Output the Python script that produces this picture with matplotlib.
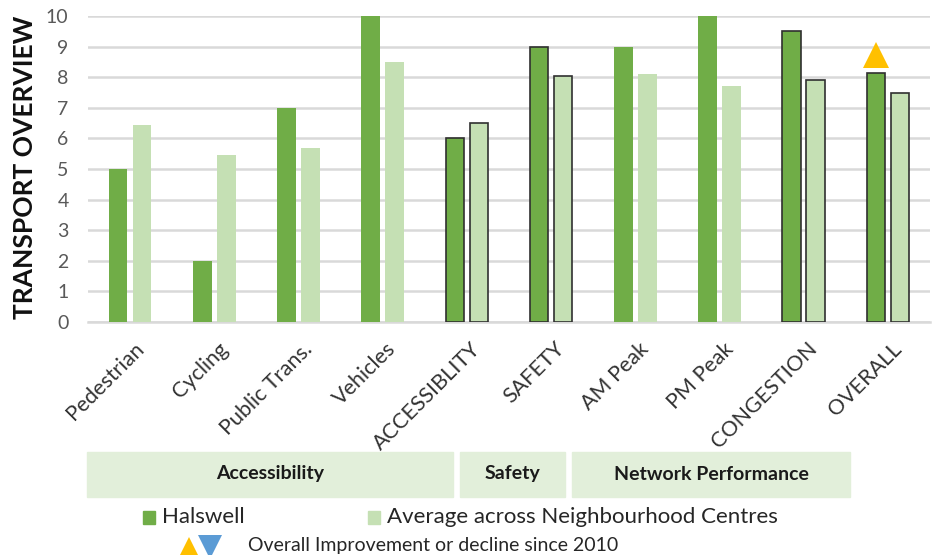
import matplotlib.pyplot as plt
import numpy as np
from matplotlib.patches import Rectangle

# data
categories = ['Pedestrian', 'Cycling', 'Public Trans.', 'Vehicles', 'ACCESSIBLITY',
              'SAFETY', 'AM Peak', 'PM Peak', 'CONGESTION', 'OVERALL']
halswell = [5, 2, 7, 10, 6, 9, 9, 10, 9.5, 8.15]
average = [6.45, 5.45, 5.7, 8.5, 6.5, 8.05, 8.1, 7.7, 7.9, 7.5]
outlined = [False, False, False, False, True, True, False, False, True, True]
improvement_idx = 9  # OVERALL gets the "improved" marker
groups = ['Accessibility', 'Safety', 'Network Performance']

DARK = '#70AD47'
LIGHT = '#C5E0B4'

plt.rcParams['font.family'] = ['Lato', 'DejaVu Sans']

fig = plt.figure(figsize=(9.37, 5.55), dpi=100)
ax = fig.add_axes([88 / 937, 1 - 322 / 555, 842 / 937, 306 / 555])

x = np.arange(len(categories))
off, w = 0.143, 0.22
for i in range(len(categories)):
    ec = '#303030' if outlined[i] else 'none'
    lw = 1.2 if outlined[i] else 0
    ax.bar(x[i] - off, halswell[i], w, color=DARK, edgecolor=ec, linewidth=lw, zorder=3)
    ax.bar(x[i] + off, average[i], w, color=LIGHT, edgecolor=ec, linewidth=lw, zorder=3)

# improvement marker above the OVERALL bar
ax.plot(x[improvement_idx] - off, halswell[improvement_idx] + 0.58, marker='^',
        markersize=19, color='#FFC000', markeredgewidth=0, zorder=4)

ax.set_xlim(-0.5, 9.5)
ax.set_ylim(0, 10)
ax.set_yticks(range(0, 11))
ax.yaxis.grid(True, color='#D9D9D9', linewidth=1.8, zorder=0)
ax.set_axisbelow(True)
for s in ['top', 'right', 'left']:
    ax.spines[s].set_visible(False)
ax.spines['bottom'].set_color('#D9D9D9')
ax.spines['bottom'].set_linewidth(1.8)
ax.tick_params(axis='both', length=0)
ax.tick_params(axis='y', labelsize=14, labelcolor='#595959', pad=14)

ax.set_xticks(x + 0.04)
ax.set_xticklabels(categories, rotation=45, ha='right', rotation_mode='anchor',
                   fontsize=15.5, color='#333333')
ax.tick_params(axis='x', pad=12)

fig.text(25 / 937, 1 - 167 / 555, 'TRANSPORT OVERVIEW', rotation=90, fontsize=19,
         fontweight='bold', ha='center', va='center', color='#111111')

# group boxes under the axis
boxes = [(87, 453), (460, 565), (572, 850)]
for (x0, x1), name in zip(boxes, groups):
    fig.patches.append(Rectangle((x0 / 937, 1 - 497 / 555), (x1 - x0) / 937, 45 / 555,
                                 transform=fig.transFigure, color='#E2EFDA', zorder=0))
    fig.text((x0 + x1) / 2 / 937, 1 - 474 / 555, name, fontsize=14, fontweight='bold',
             ha='center', va='center', color='#1A1A1A')

# legend
fig.patches.append(Rectangle((143 / 937, 1 - 524 / 555), 12 / 937, 13 / 555,
                             transform=fig.transFigure, color=DARK))
fig.text(162 / 937, 1 - 517 / 555, 'Halswell', fontsize=16, va='center', color='#262626')
fig.patches.append(Rectangle((368 / 937, 1 - 524 / 555), 12 / 937, 13 / 555,
                             transform=fig.transFigure, color=LIGHT))
fig.text(387 / 937, 1 - 517 / 555, 'Average across Neighbourhood Centres', fontsize=16,
         va='center', color='#262626')

fig.lines.append(plt.Line2D([189 / 937], [1 - 549 / 555], marker='^', markersize=17,
                            color='#FFC000', markeredgewidth=0, transform=fig.transFigure))
fig.lines.append(plt.Line2D([210 / 937], [1 - 547 / 555], marker='v', markersize=17,
                            color='#5B9BD5', markeredgewidth=0, transform=fig.transFigure))
fig.text(248 / 937, 1 - 545 / 555, 'Overall Improvement or decline since 2010', fontsize=14,
         va='center', color='#262626')

fig.savefig('out.png', dpi=100)
